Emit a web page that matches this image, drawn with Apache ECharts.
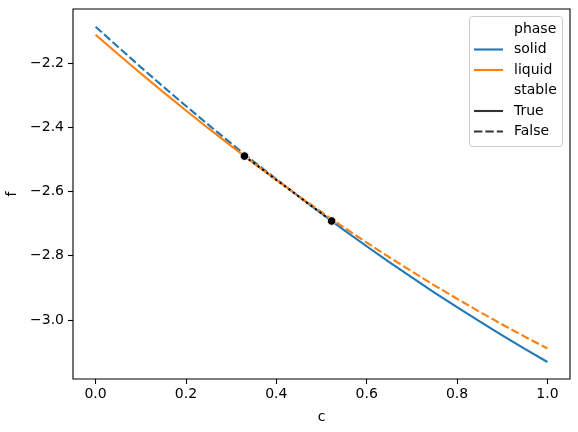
<!DOCTYPE html>
<html>
<head>
<meta charset="utf-8">
<script src="https://cdn.jsdelivr.net/npm/echarts@6/dist/echarts.min.js"></script>
<style>
  html, body { margin: 0; padding: 0; background: #fff; }
  #chart { width: 578px; height: 432px; }
</style>
</head>
<body>
<div id="chart"></div>
<script>
  // composition grid
  var cValues = [0, 0.05, 0.1, 0.15, 0.2, 0.25, 0.3, 0.35, 0.4, 0.43, 0.45, 0.5,
                 0.55, 0.6, 0.65, 0.7, 0.75, 0.8, 0.85, 0.9, 0.95, 1.0];
  var solidF = [-2.087, -2.1505, -2.2129, -2.274, -2.334, -2.3928, -2.4504, -2.5067, -2.562, -2.5944, -2.6159, -2.6688,
                -2.7203, -2.7707, -2.82, -2.8679, -2.9148, -2.9604, -3.0049, -3.0481, -3.0902, -3.131];
  var liquidF = [-2.112, -2.173, -2.2326, -2.291, -2.348, -2.4039, -2.4584, -2.5118, -2.5638, -2.5943, -2.6146, -2.664,
                 -2.7123, -2.7592, -2.8049, -2.8492, -2.8924, -2.9342, -2.9749, -3.0142, -3.0523, -3.089];
  var switchC = 0.43; // where the lower curve changes

  // common tangent points
  var tangentC = [0.3295, 0.5224];
  var tangentF = [-2.490, -2.692];

  var xTicks = [0, 0.2, 0.4, 0.6, 0.8, 1.0];
  var yTicks = [-3.0, -2.8, -2.6, -2.4, -2.2];

  var blue = '#1f77b4';
  var orange = '#ff7f0e';
  var dash = [8.3, 3.1];
  var font = 'DejaVu Sans';

  function part(fs, below) {
    var out = [];
    for (var i = 0; i < cValues.length; i++) {
      if (below ? cValues[i] <= switchC : cValues[i] >= switchC) {
        out.push([cValues[i], fs[i]]);
      }
    }
    return out;
  }

  function lineSeries(data, color, type) {
    return {
      type: 'line',
      data: data,
      showSymbol: false,
      symbol: 'none',
      animation: false,
      lineStyle: { color: color, width: 2.1, type: type },
      z: 2
    };
  }

  var tickFmt = function (v) {
    return (v < 0 ? '\u2212' : '') + Math.abs(v).toFixed(1);
  };

  var chart = echarts.init(document.getElementById('chart'));

  var legendRows = [29, 49.5, 70, 90.5, 111, 131.5];
  var legendLabels = ['phase', 'solid', 'liquid', 'stable', 'True', 'False'];
  var legendLines = [null, { c: blue, d: null }, { c: orange, d: null }, null,
                     { c: '#333333', d: null }, { c: '#333333', d: dash }];
  var graphics = [{
    type: 'rect',
    shape: { x: 469.5, y: 16.5, width: 93, height: 130, r: 3 },
    style: { fill: 'rgba(255,255,255,0.8)', stroke: '#cccccc', lineWidth: 1 },
    z: 10
  }];
  legendRows.forEach(function (y, i) {
    graphics.push({
      type: 'text',
      x: 514, y: y,
      style: { text: legendLabels[i], fill: '#000', font: '14px "' + font + '"', verticalAlign: 'middle' },
      z: 11
    });
    if (legendLines[i]) {
      graphics.push({
        type: 'line',
        shape: { x1: 474, y1: y, x2: 503, y2: y },
        style: { stroke: legendLines[i].c, lineWidth: 2.1, lineDash: legendLines[i].d },
        z: 11
      });
    }
  });

  chart.setOption({
    animation: false,
    textStyle: { fontFamily: font },
    grid: {
      left: 73, right: 8, top: 9, bottom: 53,
      show: true, borderColor: '#000', borderWidth: 1.1,
      outerBoundsMode: 'none'
    },
    xAxis: {
      type: 'value',
      min: -0.05,
      max: 1.05,
      name: 'c',
      nameLocation: 'middle',
      nameGap: 31,
      nameTextStyle: { color: '#000', fontSize: 14, fontFamily: font },
      axisLine: { show: false, onZero: false },
      axisTick: { show: true, length: 5, customValues: xTicks, lineStyle: { color: '#000', width: 1.1 } },
      axisLabel: { customValues: xTicks, formatter: tickFmt, color: '#000', fontSize: 14, margin: 8 },
      splitLine: { show: false }
    },
    yAxis: {
      type: 'value',
      min: -3.184,
      max: -2.032,
      name: 'f',
      nameLocation: 'middle',
      nameGap: 52,
      nameTextStyle: { color: '#000', fontSize: 14, fontFamily: font },
      axisLine: { show: false, onZero: false },
      axisTick: { show: true, length: 5, customValues: yTicks, lineStyle: { color: '#000', width: 1.1 } },
      axisLabel: { customValues: yTicks, formatter: tickFmt, color: '#000', fontSize: 14, margin: 9 },
      splitLine: { show: false }
    },
    series: [
      lineSeries(part(solidF, true), blue, dash),
      lineSeries(part(solidF, false), blue, 'solid'),
      lineSeries(part(liquidF, true), orange, 'solid'),
      lineSeries(part(liquidF, false), orange, dash),
      {
        type: 'line',
        data: [[tangentC[0], tangentF[0]], [tangentC[1], tangentF[1]]],
        showSymbol: false,
        symbol: 'none',
        lineStyle: { color: '#000', width: 2.1, type: [2.1, 3.4] },
        z: 3
      },
      {
        type: 'scatter',
        data: [[tangentC[0], tangentF[0]], [tangentC[1], tangentF[1]]],
        symbolSize: 8.5,
        itemStyle: { color: '#000', borderColor: '#fff', borderWidth: 0.8, opacity: 1 },
        z: 4
      }
    ],
    graphic: graphics
  });
</script>
</body>
</html>
